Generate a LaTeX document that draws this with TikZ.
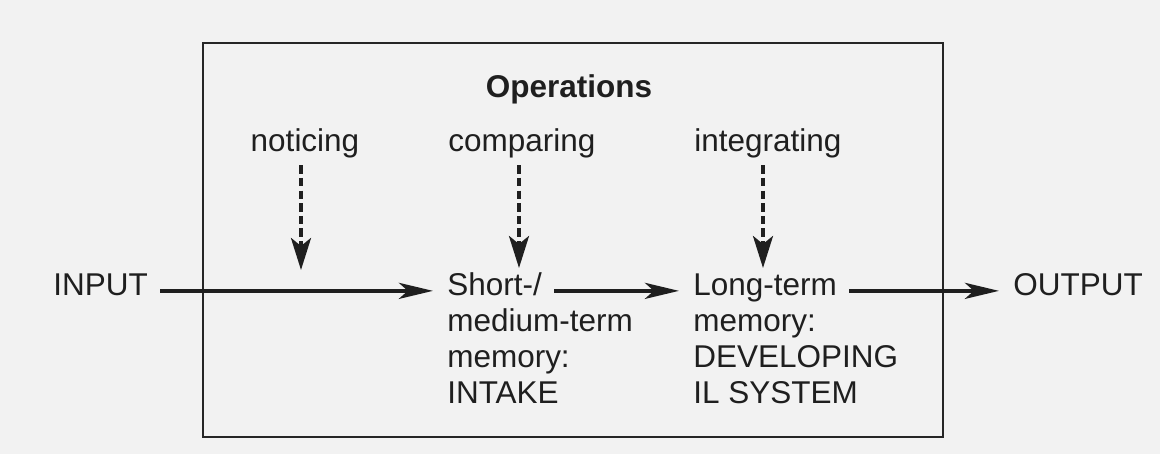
\documentclass[tikz,border=0pt]{standalone}
\usepackage{fontspec}
\setmainfont{Liberation Sans}
\usetikzlibrary{arrows.meta,positioning}

\begin{document}
\begin{tikzpicture}[
    term/.style={
        inner sep=0pt, text=black!88,
        font=\fontsize{22.4}{25.4}\selectfont
    },
    row/.style={term, anchor=base west, text height=0.73em, text depth=0pt},
    block/.style={term, anchor=base west, align=left},
    operation/.style={term, anchor=base},
    flow/.style={-{Stealth[length=8.5mm,width=4mm,inset=2.2mm]}, line width=2.8pt,
        black!88, shorten <=0.3cm, shorten >=0.35cm},
    feed/.style={-{Stealth[length=8mm,width=5mm,inset=2mm]}, line width=2.6pt,
        black!88, dash pattern=on 6pt off 3pt, shorten <=0.16cm},
    frame/.style={draw=black!85, line width=1pt}
]
% 背景と枠
\fill[black!5] (0,0) rectangle (29,11.35);
\useasboundingbox (0,0) rectangle (29,11.35);
\draw[frame] (5.075,0.425) rectangle (23.575,10.275);

% 操作
\node[term, font=\fontsize{22.4}{25.4}\selectfont\bfseries, anchor=base] (ops) at (14.225,8.9) {Operations};
\node[operation] (noticing) at (7.625,7.55) {noticing};
\node[operation] (comparing) at (13.05,7.55) {comparing};
\node[operation] (integrating) at (19.2,7.55) {integrating};

% 流れ
\node[row] (input) at (1.325,3.95) {INPUT};
\node[row] (stm) at (11.175,3.95) {Short-/};
\node[block] (stmtxt) at (11.175,1.2725) {medium-term\\memory:\\INTAKE};
\node[row] (ltm) at (17.325,3.95) {Long-term};
\node[block] (ltmtxt) at (17.325,1.2725) {memory:\\DEVELOPING\\IL SYSTEM};
\node[row] (output) at (25.325,3.95) {OUTPUT};

\draw[flow] (input) -- (stm);
\draw[flow] (stm) -- (ltm);
\draw[flow] (ltm) -- (output);

% 点線矢印
\coordinate (ntip) at (7.525,4.6);
\coordinate (ctip) at (12.975,4.65);
\coordinate (itip) at (19.075,4.65);
\draw[feed] (noticing.south -| ntip) -- (ntip);
\draw[feed] (comparing.south -| ctip) -- (ctip);
\draw[feed] (integrating.south -| itip) -- (itip);

\end{tikzpicture}
\end{document}
